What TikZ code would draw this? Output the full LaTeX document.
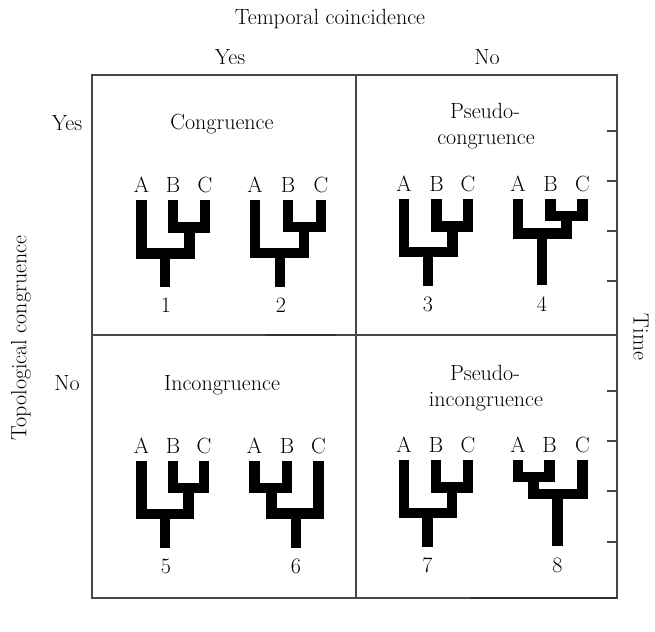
\documentclass[tikz,border=0pt]{standalone}
\usepackage{tikz}
\begin{document}
\begin{tikzpicture}[x=1pt,y=-1pt,
  frameline/.style={draw=black!72, line width=1.1pt},
  scanline/.style={draw=black!80, line width=2pt},
  tickmark/.style={draw=black!72, line width=1.1pt},
  branch/.style={draw=black, line width=10.5pt, line join=miter, line cap=butt},
  txt/.style={font=\fontsize{22}{26}\selectfont, inner sep=0pt, text=black},
]
\useasboundingbox (0,0) rectangle (655,631);
% frame
\draw[frameline] (92,75) rectangle (617,598);
\draw[frameline] (356,75) -- (356,598);
\draw[frameline] (92,335) -- (617,335);
\draw[scanline] (470,598) -- (617,598);
\draw[scanline] (265,335) -- (336,335);
% time ticks
\foreach \ty in {131,181,231,281,391,441,491,542}
  \draw[tickmark] (607,\ty) -- (617,\ty);
% axis titles
\node[txt, anchor=base] (temporal) at (330,25) {Temporal coincidence};
\node[txt, anchor=base] (tyes) at (230,65) {Yes};
\node[txt, anchor=base] (tno) at (487,65) {No};
\node[txt, anchor=base] (lyes) at (67,131) {Yes};
\node[txt, anchor=base] (lno) at (67,390) {No};
\node[txt, rotate=90] (topo) at (21,338) {Topological congruence};
\node[txt, rotate=-90] (time) at (641,337) {Time};
% quadrant titles
\node[txt, anchor=base] (cong) at (222,130) {Congruence};
\node[txt, anchor=base] (pc1) at (485,119) {Pseudo-};
\node[txt, anchor=base] (pc2) at (486,145) {congruence};
\node[txt, anchor=base] (incong) at (222,390) {Incongruence};
\node[txt, anchor=base] (pi1) at (485,380) {Pseudo-};
\node[txt, anchor=base] (pi2) at (486,406) {incongruence};
% ---- tree 1
\draw[branch] (141.5,200) |- (189.5,253.5) -- (189.5,227.5);
\draw[branch] (173,200) |- (205,227.5) -- (205,200);
\draw[branch] (165,253.5) -- (165,287);
\node[txt, anchor=base] (a1) at (141.5,192) {A};
\node[txt, anchor=base] (b1) at (173,192) {B};
\node[txt, anchor=base] (c1) at (205,192) {C};
\node[txt, anchor=base] (n1) at (166,312) {1};
% ---- tree 2
\draw[branch] (255,200) |- (304,253) -- (304,227);
\draw[branch] (288,200) |- (321,227) -- (321,200);
\draw[branch] (280,253) -- (280,287);
\node[txt, anchor=base] (a2) at (255,192) {A};
\node[txt, anchor=base] (b2) at (288,192) {B};
\node[txt, anchor=base] (c2) at (321,192) {C};
\node[txt, anchor=base] (n2) at (281,312) {2};
% ---- tree 3
\draw[branch] (404,199) |- (452.5,252) -- (452.5,226.5);
\draw[branch] (436.5,199) |- (468,226.5) -- (468,199);
\draw[branch] (428,252) -- (428,286);
\node[txt, anchor=base] (a3) at (404,191) {A};
\node[txt, anchor=base] (b3) at (436.5,191) {B};
\node[txt, anchor=base] (c3) at (468,191) {C};
\node[txt, anchor=base] (n3) at (428,311) {3};
% ---- tree 4
\draw[branch] (518,199) |- (566.5,233.5) -- (566.5,216);
\draw[branch] (550.5,199) |- (582.5,216) -- (582.5,199);
\draw[branch] (542,233.5) -- (542,285);
\node[txt, anchor=base] (a4) at (518,191) {A};
\node[txt, anchor=base] (b4) at (550.5,191) {B};
\node[txt, anchor=base] (c4) at (582.5,191) {C};
\node[txt, anchor=base] (n4) at (542,311) {4};
% ---- tree 5
\draw[branch] (141.5,461) |- (188.5,514) -- (188.5,488);
\draw[branch] (173,461) |- (204,488) -- (204,461);
\draw[branch] (165,514) -- (165,548);
\node[txt, anchor=base] (a5) at (141.5,453) {A};
\node[txt, anchor=base] (b5) at (173,453) {B};
\node[txt, anchor=base] (c5) at (204,453) {C};
\node[txt, anchor=base] (n5) at (166,573) {5};
% ---- tree 6
\draw[branch] (254.5,461) |- (287,488) -- (287,461);
\draw[branch] (271.5,488) |- (318.5,513.5) -- (318.5,461);
\draw[branch] (296,513.5) -- (296,548);
\node[txt, anchor=base] (a6) at (254.5,453) {A};
\node[txt, anchor=base] (b6) at (287,453) {B};
\node[txt, anchor=base] (c6) at (318.5,453) {C};
\node[txt, anchor=base] (n6) at (296,573) {6};
% ---- tree 7
\draw[branch] (404,460) |- (452,513) -- (452,487.5);
\draw[branch] (436,460) |- (468,487.5) -- (468,460);
\draw[branch] (427.5,513) -- (427.5,547);
\node[txt, anchor=base] (a7) at (404,452) {A};
\node[txt, anchor=base] (b7) at (436,452) {B};
\node[txt, anchor=base] (c7) at (468,452) {C};
\node[txt, anchor=base] (n7) at (427.5,572) {7};
% ---- tree 8
\draw[branch] (518,460) |- (549.5,477) -- (549.5,460);
\draw[branch] (533.5,477) |- (582.5,494) -- (582.5,460);
\draw[branch] (557.5,494) -- (557.5,546);
\node[txt, anchor=base] (a8) at (518,452) {A};
\node[txt, anchor=base] (b8) at (549.5,452) {B};
\node[txt, anchor=base] (c8) at (582.5,452) {C};
\node[txt, anchor=base] (n8) at (557.5,572) {8};
\end{tikzpicture}
\end{document}
